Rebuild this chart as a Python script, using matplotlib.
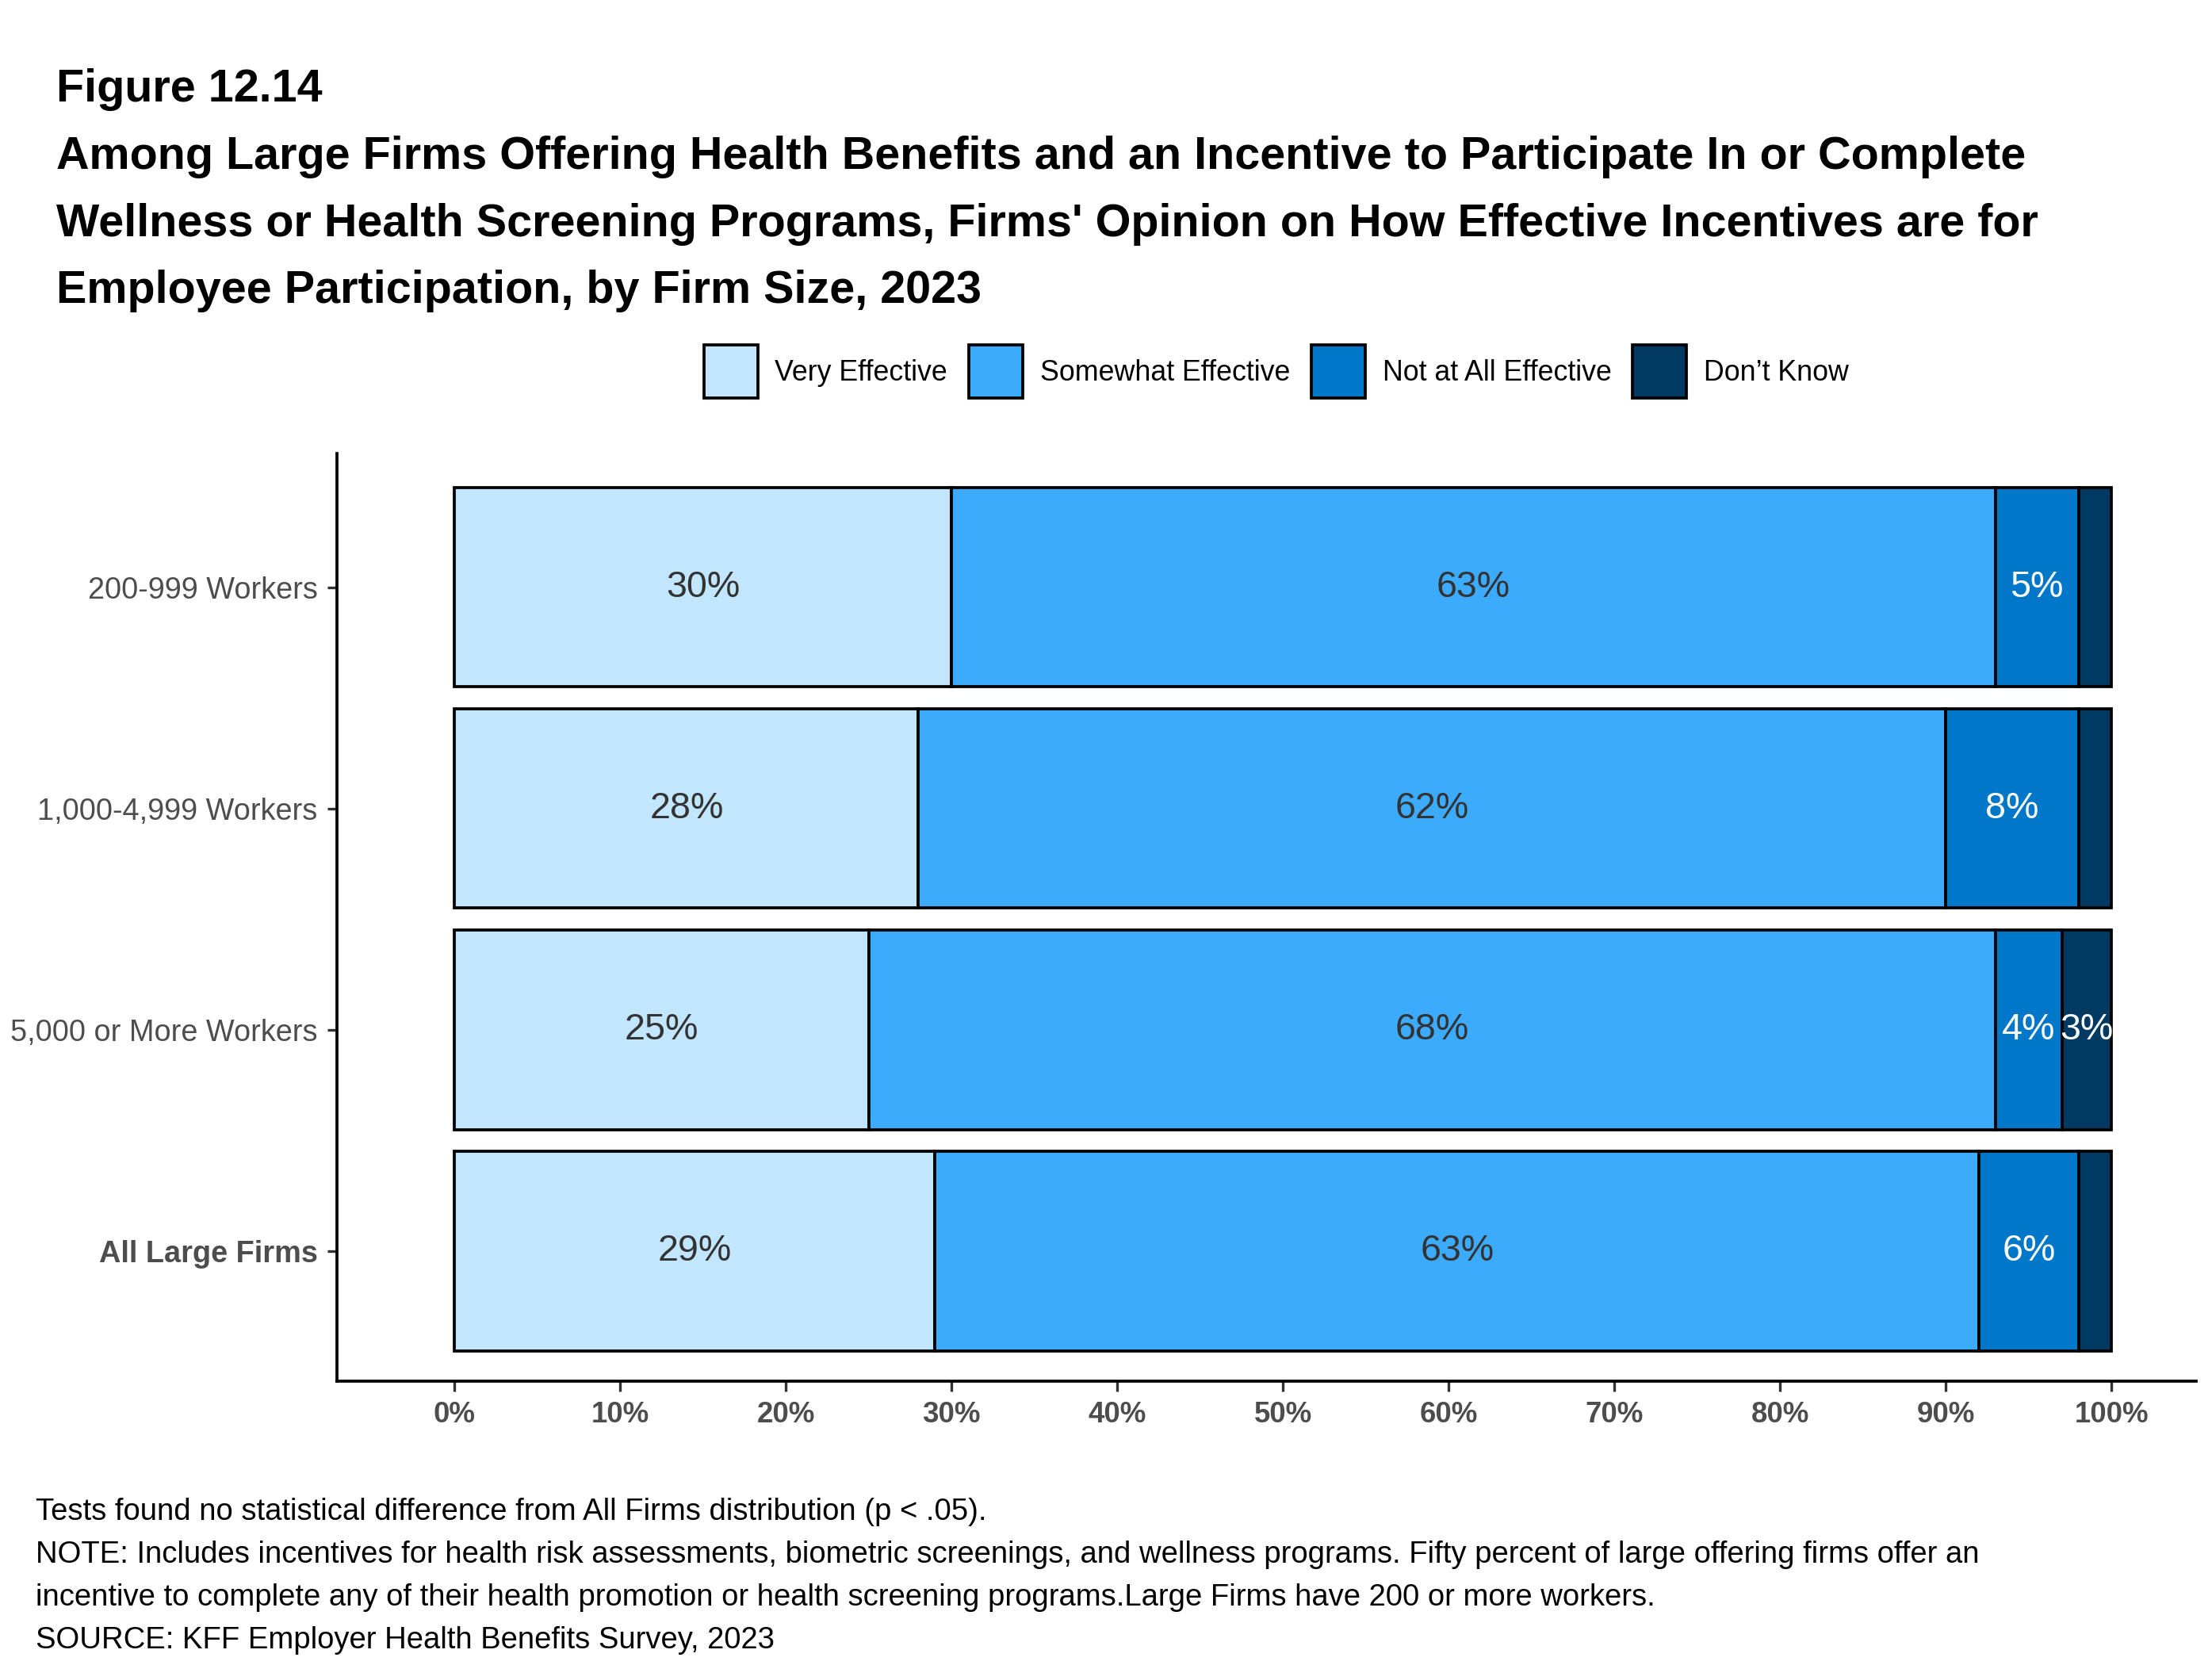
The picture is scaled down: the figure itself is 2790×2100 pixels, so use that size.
import numpy as np
import matplotlib
matplotlib.use("Agg")
import matplotlib.pyplot as plt
from matplotlib.patches import Patch

plt.rcParams["font.family"] = ["Liberation Sans", "DejaVu Sans"]

# ─── Data ──────────────────────────────────────────────────────────
groups     = ["200-999 Workers", "1,000-4,999 Workers",
              "5,000 or More Workers", "All Large Firms"]
categories = ["Very Effective", "Somewhat Effective",
              "Not at All Effective", "Don\u2019t Know"]
very_eff     = [30, 28, 25, 29]
somewhat_eff = [63, 62, 68, 63]
not_eff      = [5, 8, 4, 6]
dont_know    = [2, 2, 3, 2]
x_ticks      = [0, 10, 20, 30, 40, 50, 60, 70, 80, 90, 100]

colors      = ["#C2E6FD", "#3CABFC", "#0077C8", "#003A63"]
text_colors = ["#333333", "#333333", "white", "white"]

series = [very_eff, somewhat_eff, not_eff, dont_know]

fig = plt.figure(figsize=(9.3, 7), dpi=300)
ax = fig.add_axes([0.1525, 0.1707, 0.8403, 0.5569])

ypos = np.arange(len(groups))[::-1]
left = np.zeros(len(groups))
for vals, col, tcol in zip(series, colors, text_colors):
    vals = np.array(vals, dtype=float)
    ax.barh(ypos, vals, left=left, height=0.9, color=col,
            edgecolor="black", linewidth=0.9)
    for y, l, v in zip(ypos, left, vals):
        if v >= 3:
            ax.text(l + v / 2, y, f"{int(v)}%", ha="center", va="center",
                    fontsize=11.2, color=tcol)
    left += vals

ax.set_xlim(-7.07, 105.1)
ax.set_ylim(-0.586, 3.605)
ax.set_xticks(x_ticks)
ax.set_xticklabels([f"{t}%" for t in x_ticks], fontsize=8.8,
                   fontweight="bold", color="#4D4D4D")
ax.set_yticks(ypos)
ax.set_yticklabels(groups, fontsize=9.1, color="#4D4D4D")
ax.get_yticklabels()[-1].set_fontweight("bold")
ax.tick_params(axis="both", length=3, width=0.8, color="#333333", pad=3)
for s in ["top", "right"]:
    ax.spines[s].set_visible(False)
for s in ["left", "bottom"]:
    ax.spines[s].set_linewidth(0.9)

# Title block
fig.text(0.0256, 0.9463, "Figure 12.14", fontsize=13.8, fontweight="bold",
         va="center")
title_lines = [
    "Among Large Firms Offering Health Benefits and an Incentive to Participate In or Complete",
    "Wellness or Health Screening Programs, Firms' Opinion on How Effective Incentives are for",
    "Employee Participation, by Firm Size, 2023",
]
for i, line in enumerate(title_lines):
    fig.text(0.0256, 0.9055 - i * 0.0401, line, fontsize=13.8,
             fontweight="bold", va="center")

# Legend
handles = [Patch(facecolor=c, edgecolor="black", linewidth=0.9) for c in colors]
fig.legend(handles, categories, loc="center", bbox_to_anchor=(0.577, 0.7768),
           ncol=4, frameon=False, fontsize=8.6, handlelength=1.9,
           handleheight=2.5, handletextpad=0.6, columnspacing=0.75)

# Footnotes
notes = [
    "Tests found no statistical difference from All Firms distribution (p < .05).",
    "NOTE: Includes incentives for health risk assessments, biometric screenings, and wellness programs. Fifty percent of large offering firms offer an",
    "incentive to complete any of their health promotion or health screening programs.Large Firms have 200 or more workers.",
    "SOURCE: KFF Employer Health Benefits Survey, 2023",
]
for i, line in enumerate(notes):
    fig.text(0.016, 1 - (1066 + i * 30.3) / 1174, line, fontsize=9.2,
             va="center")

fig.savefig("out.png", dpi=300)
